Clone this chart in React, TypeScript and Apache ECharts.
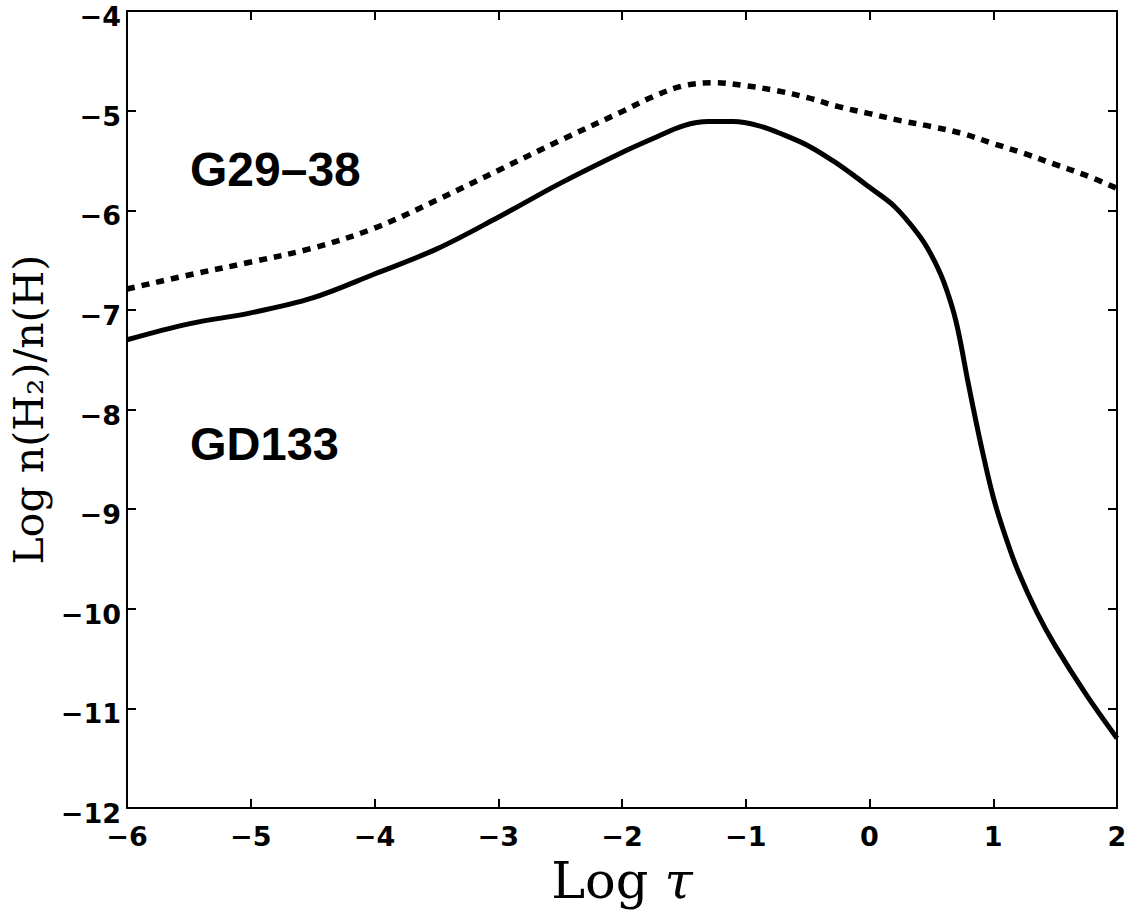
import React, { useEffect, useRef } from "react";
import * as echarts from "echarts";

// GD133 (solid curve)
const gd133LogTau = [-6, -5.5, -5, -4.5, -4, -3.5, -3, -2.5, -2, -1.75, -1.5, -1.3, -1.1, -0.9, -0.7, -0.5, -0.3, -0.15, 0, 0.2, 0.4, 0.5, 0.6, 0.7, 0.8, 0.9, 1.0, 1.1, 1.2, 1.35, 1.5, 1.75, 2];
const gd133Ratio = [-7.30, -7.14, -7.03, -6.88, -6.64, -6.39, -6.07, -5.73, -5.42, -5.28, -5.15, -5.11, -5.11, -5.15, -5.24, -5.35, -5.50, -5.63, -5.77, -5.96, -6.25, -6.45, -6.72, -7.12, -7.75, -8.35, -8.88, -9.28, -9.62, -10.03, -10.37, -10.86, -11.30];

// G29-38 (dotted curve)
const g2938LogTau = [-6, -5.5, -5, -4.5, -4, -3.5, -3, -2.5, -2, -1.75, -1.5, -1.25, -1, -0.75, -0.5, -0.25, 0, 0.25, 0.5, 0.75, 1, 1.25, 1.5, 1.75, 2];
const g2938Ratio = [-6.79, -6.65, -6.52, -6.38, -6.18, -5.90, -5.60, -5.30, -5.01, -4.86, -4.75, -4.72, -4.75, -4.80, -4.87, -4.96, -5.03, -5.10, -5.16, -5.23, -5.33, -5.43, -5.54, -5.65, -5.78];

const xMin = -6, xMax = 2, xStep = 1;
const yMin = -12, yMax = -4, yStep = 1;

const labelG2938 = "G29–38";
const labelGD133 = "GD133";

const fmt = (v: number) => String(v).replace("-", "−");

export default function App() {
  const ref = useRef<HTMLDivElement>(null);
  useEffect(() => {
    document.body.style.margin = "0";
    const chart = echarts.init(ref.current!, null, { renderer: "svg" });
    const axisLineStyle = { color: "#000", width: 2 };
    const axisLine = { show: true, onZero: false, lineStyle: axisLineStyle };
    const tickCommon = { show: true, inside: true, length: 9, lineStyle: { color: "#000", width: 2 } };
    const labelFont = { color: "#000", fontFamily: "DejaVu Sans", fontWeight: "bold" as const, fontSize: 27 };
    chart.setOption({
      animation: false,
      backgroundColor: "#fff",
      grid: { left: 127, right: 16, top: 11, bottom: 103 },
      xAxis: [
        {
          type: "value", min: xMin, max: xMax, interval: xStep, position: "bottom",
          axisLine, axisTick: tickCommon,
          axisLabel: { ...labelFont, formatter: fmt, margin: 15 }, splitLine: { show: false },
          name: "Log {i|τ}", nameLocation: "middle", nameGap: 40,
          nameTextStyle: { fontFamily: "DejaVu Serif", fontSize: 51, color: "#000",
            rich: { i: { fontFamily: "DejaVu Serif", fontStyle: "italic", fontSize: 51, color: "#000" } } },
        },
        {
          type: "value", min: xMin, max: xMax, interval: xStep, position: "top",
          axisLine, axisTick: tickCommon,
          axisLabel: { show: false }, splitLine: { show: false },
        },
      ],
      yAxis: [
        {
          type: "value", min: yMin, max: yMax, interval: yStep, position: "left",
          axisLine, axisTick: tickCommon,
          axisLabel: {
            ...labelFont, margin: 6,
            formatter: (v: number) => `{t|${fmt(v)}}`,
            rich: { t: { ...labelFont, padding: [11, 0, 0, 0] } },
          },
          splitLine: { show: false },
          name: "Log n(H₂)/n(H)", nameLocation: "middle", nameGap: 72, nameRotate: 90,
          nameTextStyle: { fontFamily: "DejaVu Serif", fontSize: 41, color: "#000" },
        },
        {
          type: "value", min: yMin, max: yMax, interval: yStep, position: "right",
          axisLine, axisTick: tickCommon,
          axisLabel: { show: false }, splitLine: { show: false },
        },
      ],
      series: [
        {
          name: labelG2938, type: "line", xAxisIndex: 0, yAxisIndex: 0,
          data: g2938LogTau.map((x, i) => [x, g2938Ratio[i]]),
          showSymbol: false, smooth: 0.35,
          lineStyle: { color: "#000", width: 5.5, type: [8, 7], cap: "butt" },
        },
        {
          name: labelGD133, type: "line", xAxisIndex: 0, yAxisIndex: 0,
          data: gd133LogTau.map((x, i) => [x, gd133Ratio[i]]),
          showSymbol: false, smooth: 0.35,
          lineStyle: { color: "#000", width: 5 },
        },
      ],
      graphic: [
        { type: "text", left: 190, top: 145, style: { text: labelG2938, fontFamily: "Liberation Sans", fontWeight: "bold", fontSize: 48, fill: "#000" } },
        { type: "text", left: 190, top: 420, style: { text: labelGD133, fontFamily: "Liberation Sans", fontWeight: "bold", fontSize: 47, fill: "#000" } },
      ],
    });
    return () => chart.dispose();
  }, []);
  return <div ref={ref} style={{ width: 1133, height: 911 }} />;
}
